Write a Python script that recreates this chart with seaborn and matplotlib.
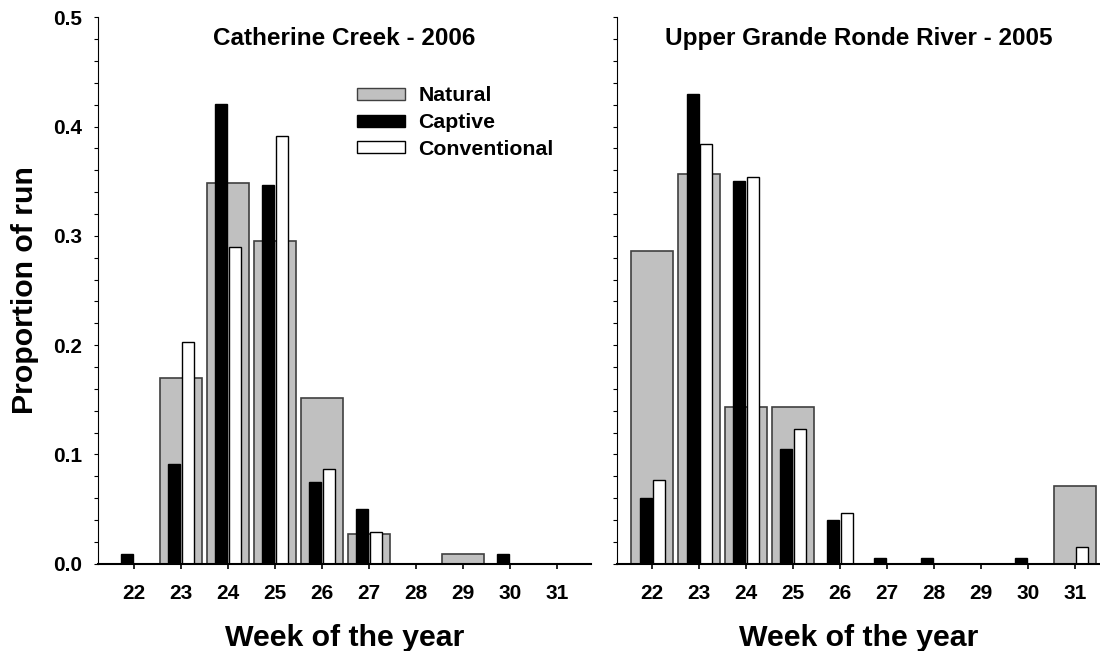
import numpy as np
import pandas as pd
import matplotlib
matplotlib.use("Agg")
import matplotlib.pyplot as plt
from matplotlib.patches import Patch
from matplotlib.ticker import MultipleLocator
import seaborn as sns

# ----------- DATA ------------
weeks = list(range(22, 32))

cc_natural = [0, 0.170, 0.348, 0.295, 0.152, 0.027, 0, 0.009, 0, 0]
cc_captive = [0.009, 0.091, 0.421, 0.347, 0.075, 0.050, 0, 0, 0.009, 0]
cc_conventional = [0, 0.203, 0.290, 0.391, 0.087, 0.029, 0, 0, 0, 0]

ug_natural = [0.286, 0.357, 0.143, 0.143, 0, 0, 0, 0, 0, 0.071]
ug_captive = [0.060, 0.430, 0.350, 0.105, 0.040, 0.005, 0.005, 0, 0.005, 0]
ug_conventional = [0.077, 0.384, 0.354, 0.123, 0.046, 0, 0, 0, 0, 0.015]

titles = ["Catherine Creek - 2006", "Upper Grande Ronde River - 2005"]
origins = ["Natural", "Captive", "Conventional"]

colors = {"Natural": "#c0c0c0", "Captive": "black", "Conventional": "white"}
edges = {"Natural": "#404040", "Captive": "black", "Conventional": "black"}

# ----------- STYLE ------------
sns.set_style("ticks", {"axes.edgecolor": "black", "text.color": "black",
                        "axes.labelcolor": "black", "xtick.color": "black",
                        "ytick.color": "black"})
plt.rcParams["font.family"] = ["Liberation Sans", "DejaVu Sans"]
plt.rcParams["font.weight"] = "bold"
plt.rcParams["axes.labelweight"] = "bold"


def make_df(nat, cap, conv):
    rows = []
    for name, vals in zip(origins, [nat, cap, conv]):
        for w, v in zip(weeks, vals):
            rows.append({"week": w, "origin": name, "prop": v})
    return pd.DataFrame(rows)


def draw_panel(ax, df, title):
    # barres "Natural" larges, puis Captive / Conventional par-dessus
    nat = df[df.origin == "Natural"]
    sns.barplot(data=nat, x="week", y="prop", color=colors["Natural"],
                saturation=1, width=0.9, native_scale=True, errorbar=None,
                edgecolor=edges["Natural"], linewidth=1.2, ax=ax)
    hatch = df[df.origin != "Natural"]
    sns.barplot(data=hatch, x="week", y="prop", hue="origin",
                hue_order=["Captive", "Conventional"],
                palette={k: colors[k] for k in ["Captive", "Conventional"]},
                saturation=1, width=0.58, gap=0.12, dodge=True,
                native_scale=True, errorbar=None, edgecolor="black",
                linewidth=1.0, legend=False, ax=ax)

    ax.set_ylim(0, 0.5)
    ax.yaxis.set_major_locator(MultipleLocator(0.1))
    ax.yaxis.set_minor_locator(MultipleLocator(0.02))
    ax.set_xticks(weeks)
    ax.set_xticklabels([str(w) for w in weeks])
    ax.tick_params(axis="x", length=3.4, width=1.2, labelsize=15, pad=11)
    ax.tick_params(axis="y", which="both", length=3, width=0.8,
                   labelsize=15, pad=8.5)
    ax.text(0.5, 0.949, title, transform=ax.transAxes, ha="center",
            va="baseline", fontsize=17.5, fontweight="bold", color="black")
    ax.set_xlabel("Week of the year", fontsize=21.8, labelpad=15)
    sns.despine(ax=ax)
    ax.spines["bottom"].set_linewidth(1.5)
    ax.spines["left"].set_linewidth(0.8)


fig = plt.figure(figsize=(11, 6.51), dpi=100)
ax1 = fig.add_axes([0.0891, 0.1341, 0.4482, 0.8393])
ax2 = fig.add_axes([0.5606, 0.1341, 0.4394, 0.8393])

draw_panel(ax1, make_df(cc_natural, cc_captive, cc_conventional), titles[0])
draw_panel(ax2, make_df(ug_natural, ug_captive, ug_conventional), titles[1])

ax1.set_xlim(21.24, 31.73)
ax2.set_xlim(21.24, 31.53)

ax1.set_yticks([0, 0.1, 0.2, 0.3, 0.4, 0.5])
ax1.set_yticklabels(["0.0", "0.1", "0.2", "0.3", "0.4", "0.5"])
ax1.set_ylabel("Proportion of run", fontsize=21.8, labelpad=10)
ax2.set_ylabel("")
ax2.set_yticklabels([])

handles = [Patch(facecolor=colors[o], edgecolor=edges[o], linewidth=1.0) for o in origins]
ax1.legend(handles, origins, loc="upper left", bbox_to_anchor=(0.525, 0.8735),
           frameon=False, fontsize=15.3, handlelength=2.26, handleheight=0.5,
           handletextpad=0.63, labelspacing=0.365, borderpad=0, borderaxespad=0)

fig.savefig("out.png", dpi=100)
